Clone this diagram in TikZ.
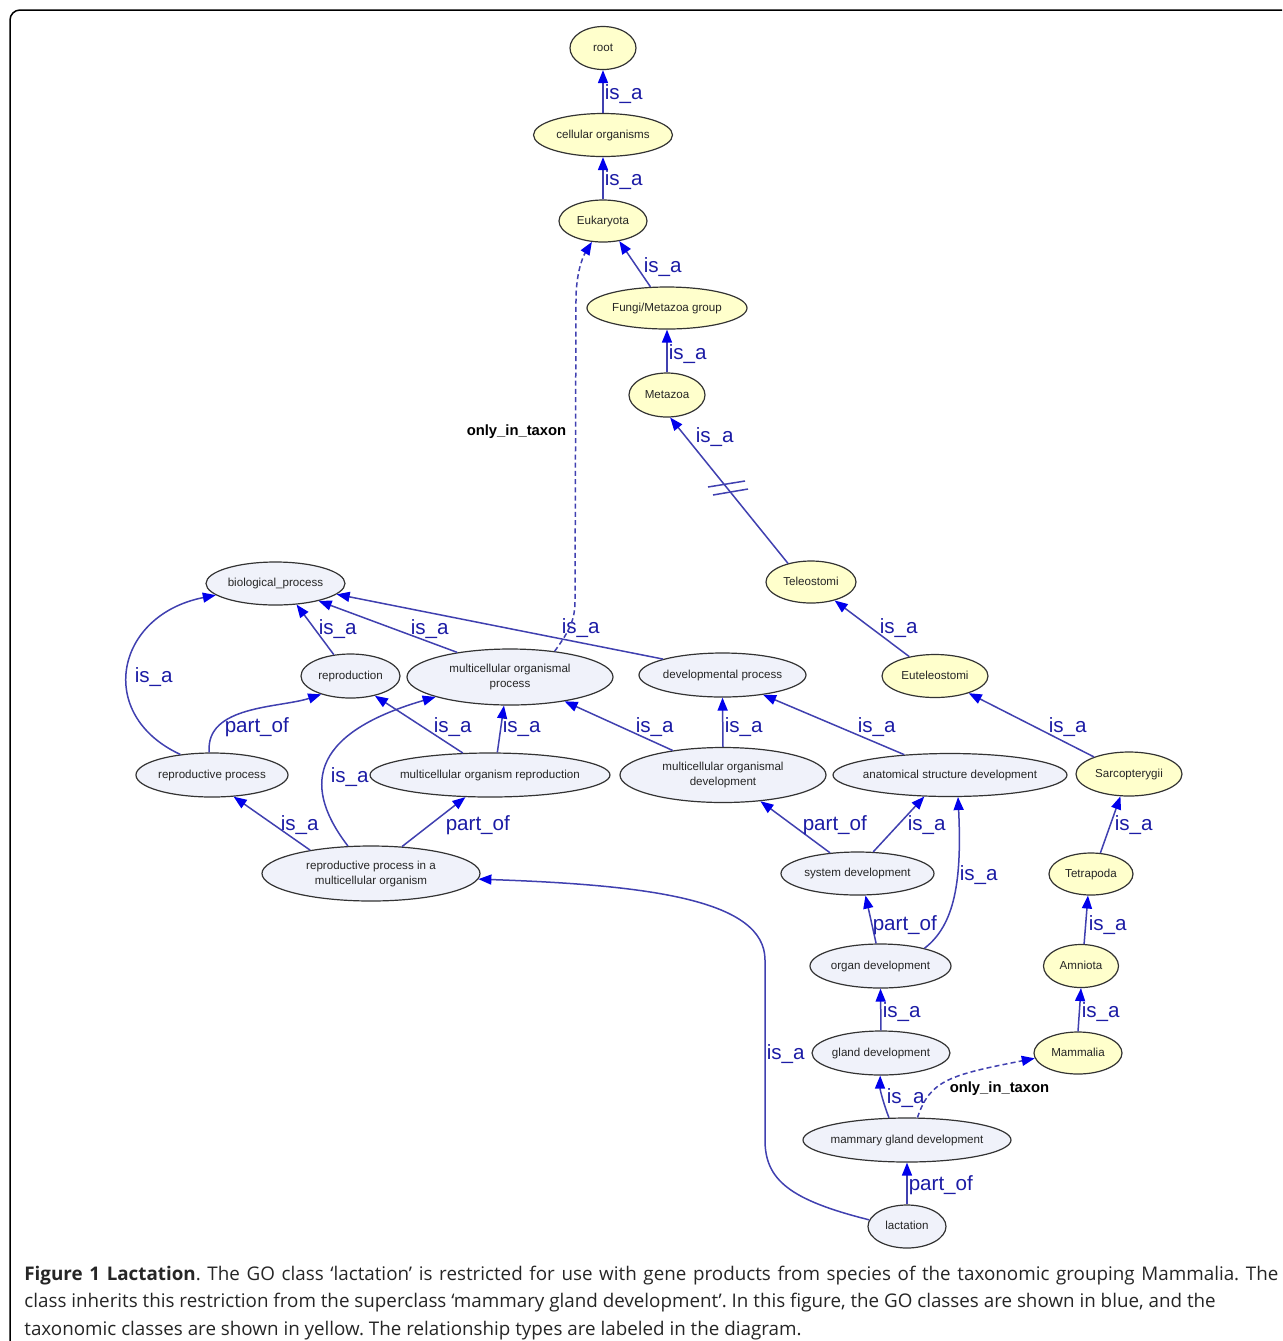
\documentclass[tikz,border=0pt]{standalone}
\usepackage{fontspec}
\setmainfont{Liberation Sans}
\newfontfamily\capfont{Open Sans}
\usetikzlibrary{shapes.geometric,arrows.meta}
\definecolor{edgec}{RGB}{64,64,176}
\definecolor{tipc}{RGB}{0,0,235}
\definecolor{labc}{RGB}{28,28,165}
\definecolor{taxfill}{RGB}{255,255,204}
\definecolor{gofill}{RGB}{240,242,250}
\definecolor{bordc}{RGB}{51,51,51}
\newcommand{\ntxt}[1]{\makebox[0pt]{\begin{tabular}{@{}c@{}}#1\end{tabular}}}
\frenchspacing
\begin{document}
\begin{tikzpicture}[x=0.5pt,y=-0.5pt,
  nd/.style={ellipse, draw=bordc, line width=0.6pt, inner sep=0pt,
    font=\fontsize{5.8}{7.5}\selectfont, text=black!85},
  gonode/.style 2 args={nd, fill=gofill, minimum width=#1pt, minimum height=#2pt},
  taxnode/.style 2 args={nd, fill=taxfill, minimum width=#1pt, minimum height=#2pt},
  edge/.style={draw=edgec, line width=0.75pt, -{Triangle[length=6.5pt,width=5pt,color=tipc]}},
  taxedge/.style={edge, dash pattern=on 2.5pt off 1.6pt},
  lab/.style={font=\fontsize{10.3}{12}\selectfont, text=labc, inner sep=0pt, anchor=west},
  taxlab/.style={font=\bfseries\fontsize{7.4}{9}\selectfont, text=black, inner sep=0pt, anchor=west},
  capstyle/.style={font=\capfont\fontsize{9.4}{11}\selectfont, text=black!85, inner sep=0pt, anchor=base west}
]
\useasboundingbox (0,0) rectangle (1282,1341);
\fill[white] (0,0) rectangle (1282,1341);
% frame
\draw[line width=0.75pt, rounded corners=5pt] (1282,10) -- (10,10) -- (10,1341);

% taxonomy nodes
\node[taxnode={33}{21.5}] (root) at (603,48) {\ntxt{root}};
\node[taxnode={69.5}{21.5}] (cell) at (603,135) {\ntxt{cellular organisms}};
\node[taxnode={44}{21}] (euk) at (603,221) {\ntxt{Eukaryota}};
\node[taxnode={80}{21}] (fungi) at (667,308) {\ntxt{Fungi/Metazoa group}};
\node[taxnode={38}{22}] (meta) at (667,395) {\ntxt{Metazoa}};
\node[taxnode={45}{21}] (teleo) at (811,582) {\ntxt{Teleostomi}};
\node[taxnode={53}{21.5}] (eutel) at (935,676) {\ntxt{Euteleostomi}};
\node[taxnode={53}{22}] (sarco) at (1129,774) {\ntxt{Sarcopterygii}};
\node[taxnode={42}{21}] (tetra) at (1091,874) {\ntxt{Tetrapoda}};
\node[taxnode={37.5}{21.5}] (amni) at (1081,966) {\ntxt{Amniota}};
\node[taxnode={44}{21}] (mamm) at (1078,1053) {\ntxt{Mammalia}};

% GO nodes
\node[gonode={69.5}{21.5}] (bp) at (275.5,583.5) {\ntxt{biological\_process}};
\node[gonode={49.5}{22}] (repro) at (350.5,676) {\ntxt{reproduction}};
\node[gonode={103}{28}] (mop) at (510,677) {\ntxt{multicellular organismal\\process}};
\node[gonode={83.5}{22}] (dp) at (722.5,675) {\ntxt{developmental process}};
\node[gonode={76}{22}] (rp) at (212,775) {\ntxt{reproductive process}};
\node[gonode={120}{22}] (mor) at (490,775) {\ntxt{multicellular organism reproduction}};
\node[gonode={103}{27.5}] (mod) at (723,775) {\ntxt{multicellular organismal\\development}};
\node[gonode={117}{21.5}] (asd) at (950,775) {\ntxt{anatomical structure development}};
\node[gonode={109}{27.5}] (rpmo) at (371,873.5) {\ntxt{reproductive process in a\\multicellular organism}};
\node[gonode={76.5}{21.5}] (sd) at (857.5,873.5) {\ntxt{system development}};
\node[gonode={70.5}{22}] (od) at (880.5,966) {\ntxt{organ development}};
\node[gonode={69}{22}] (gd) at (881,1053) {\ntxt{gland development}};
\node[gonode={104}{22}] (mgd) at (907,1140) {\ntxt{mammary gland development}};
\node[gonode={39}{21.5}] (lact) at (907,1226.5) {\ntxt{lactation}};

% taxonomy edges
\draw[edge] (cell.90) -- (root.-90) node[lab] at (604,94) {is\_a};
\draw[edge] (euk.90) -- (cell.-90) node[lab] at (604,180) {is\_a};
\draw[edge] (fungi.128.7) -- (euk.-51) node[lab] at (643,267) {is\_a};
\draw[edge] (meta.90) -- (fungi.-90) node[lab] at (668,354) {is\_a};
\draw[edge] (teleo.141.6) -- (meta.-82) node[lab] at (695,437) {is\_a};
\draw[edgec, line width=0.75pt] (708,487) -- (745,481) (713,495) -- (748,489);
\draw[edge] (eutel.143.5) -- (teleo.-38.7) node[lab] at (879,628) {is\_a};
\draw[edge] (sarco.154) -- (eutel.-27) node[lab] at (1048,727) {is\_a};
\draw[edge] (tetra.66.8) -- (sarco.-111) node[lab] at (1114,825) {is\_a};
\draw[edge] (amni.82) -- (tetra.-98) node[lab] at (1088,925) {is\_a};
\draw[edge] (mamm.90) -- (amni.-90) node[lab] at (1081,1012) {is\_a};

% GO edges
\draw[edge] (repro.128.5) -- (bp.-45) node[lab] at (318,629) {is\_a};
\draw[edge] (mop.155.9) -- (bp.-22.6) node[lab] at (410,629) {is\_a};
\draw[edge] (dp.165.4) -- (bp.-10.5) node[lab] at (561,628) {is\_a};
\draw[edge] (rp.147.8) .. controls (95,715) and (115,615) .. (bp.-169) node[lab] at (134,677) {is\_a};
\draw[edge] (rp.97) .. controls (205,705) and (280,708) .. (repro.-148) node[lab] at (224,727) {part\_of};
\draw[edge] (mor.141.8) -- (repro.-39) node[lab] at (433,727) {is\_a};
\draw[edge] (mor.72) -- (mop.-102.5) node[lab] at (502,727) {is\_a};
\draw[edge] (mod.154) -- (mop.-24) node[lab] at (635,727) {is\_a};
\draw[edge] (mod.90) -- (dp.-90) node[lab] at (724,727) {is\_a};
\draw[edge] (asd.156) -- (dp.-26.3) node[lab] at (857,727) {is\_a};
\draw[edge] (rpmo.159) -- (rp.-45) node[lab] at (280,825) {is\_a};
\draw[edge] (rpmo.130) .. controls (305,790) and (305,735) .. (mop.-165) node[lab] at (330,777) {is\_a};
\draw[edge] (rpmo.41.6) -- (mor.-138.7) node[lab] at (445,825) {part\_of};
\draw[edge] (sd.143.3) -- (mod.-35) node[lab] at (802,825) {part\_of};
\draw[edge] (sd.54.7) -- (asd.-140.8) node[lab] at (907,825) {is\_a};
\draw[edge] (od.101.6) -- (sd.-70.8) node[lab] at (872,925) {part\_of};
\draw[edge] (od.22) .. controls (955,925) and (962,880) .. (asd.-70) node[lab] at (959,875) {is\_a};
\draw[edge] (gd.90) -- (od.-90) node[lab] at (882,1012) {is\_a};
\draw[edge] (mgd.129) .. controls (884,1105) and (880,1090) .. (gd.-92) node[lab] at (886,1098) {is\_a};
\draw[edge] (lact.90) -- (mgd.-90) node[lab] at (908,1185) {part\_of};
\draw[edge] (lact.170) .. controls (790,1200) and (765,1180) .. (765,1140) -- (765,960)
  .. controls (765,900) and (650,885) .. (rpmo.-3) node[lab] at (766,1054) {is\_a};

% only_in_taxon edges
\draw[taxedge] (mgd.65.6) .. controls (930,1080) and (950,1075) .. (mamm.-173)
  node[taxlab] at (949,1089) {only\_in\_taxon};
\draw[taxedge] (mop.30) .. controls (570,630) and (575,620) .. (575,600) -- (576,300)
  .. controls (576,275) and (582,258) .. (euk.-118)
  node[taxlab] at (466,432) {only\_in\_taxon};

% caption
\node[capstyle] (cap1) at (24,1280) {\makebox[627pt][s]{\textbf{Figure 1 Lactation}. The GO class ‘lactation’ is restricted for use with gene products from species of the taxonomic grouping Mammalia. The}};
\node[capstyle] (cap2) at (24,1307.5) {class inherits this restriction from the superclass ‘mammary gland development’. In this figure, the GO classes are shown in blue, and the};
\node[capstyle] (cap3) at (24,1335) {taxonomic classes are shown in yellow. The relationship types are labeled in the diagram.};
\end{tikzpicture}
\end{document}
